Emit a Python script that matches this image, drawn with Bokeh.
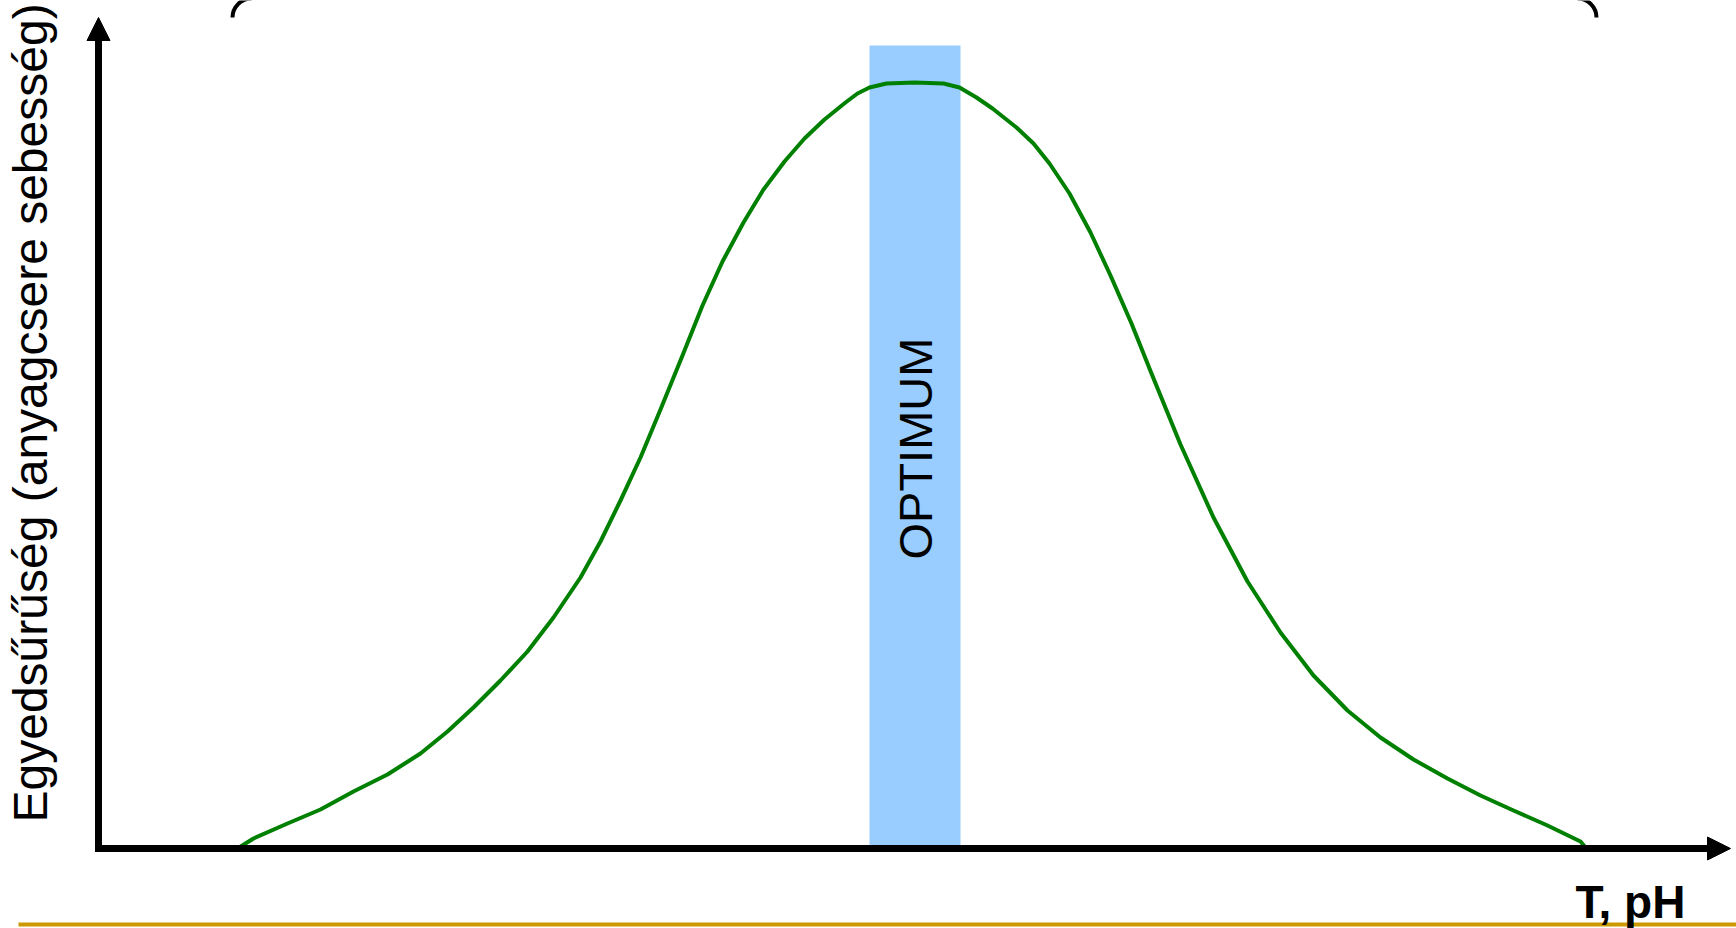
import numpy as np
from bokeh.plotting import figure
from bokeh.models import Range1d, Arrow, NormalHead, Label
from bokeh.embed import file_html
from bokeh.resources import INLINE

# ---- data (abstract units: T/pH along x, rate along y) ----
t_values = [139, 155, 189, 222, 255, 289, 322, 349, 375, 402, 429, 455, 482, 502, 522,
            542, 562, 584, 604, 624, 645, 665, 686, 706, 726, 747, 759, 771, 788, 816,
            845, 861, 878, 894, 918, 935, 951, 971, 992, 1012, 1033, 1053, 1082, 1115,
            1149, 1182, 1215, 1249, 1282, 1315, 1349, 1382, 1415, 1449, 1482, 1488]
rate_values = [0, 10, 25, 39, 57, 74, 95, 117, 141, 168, 197, 231, 271, 307, 348,
               391, 439, 493, 543, 587, 626, 659, 687, 710, 729, 746, 755, 761, 765, 766,
               765, 761, 751, 740, 721, 705, 685, 655, 616, 573, 525, 475, 404, 331,
               267, 216, 173, 138, 111, 89, 70, 53, 38, 23, 7, 0]
optimum_range = [771, 862]
optimum_top = 803

x_label = "T, pH"
y_label = "Egyedsűrűség (anyagcsere sebesség)"
band_label = "OPTIMUM"

W, H = 1736, 928
p = figure(width=W, height=H, output_backend="svg", toolbar_location=None,
           x_range=Range1d(-98, W - 98), y_range=Range1d(848 - H, 848),
           x_axis_type=None, y_axis_type=None, min_border=0,
           outline_line_color=None, background_fill_color="white")
p.grid.visible = False

# optimum band
p.quad(left=[optimum_range[0]], right=[optimum_range[1]], bottom=[0], top=[optimum_top],
       fill_color="#99CCFF", line_color=None)

# curve
p.line(t_values, rate_values, line_color="#008000", line_width=4, line_join="round")

# axes with arrows
p.add_layout(Arrow(end=NormalHead(size=23, fill_color="black", line_color="black", line_width=1),
                   x_start=0, y_start=-3.5, x_end=0, y_end=831,
                   line_color="black", line_width=7))
p.add_layout(Arrow(end=NormalHead(size=23, fill_color="black", line_color="black", line_width=1),
                   x_start=-3.5, y_start=0, x_end=1632, y_end=0,
                   line_color="black", line_width=7))

# top bracket arcs
p.arc(x=[153], y=[831], radius=19, start_angle=np.pi / 2, end_angle=np.pi,
      line_color="black", line_width=4)
p.arc(x=[1479], y=[831], radius=19, start_angle=0, end_angle=np.pi / 2,
      line_color="black", line_width=4)

# gold rule at bottom
p.line([-80, 1638], [-76, -76], line_color="#CC9900", line_width=4)

# texts
p.add_layout(Label(x=817, y=289, text=band_label, angle=np.pi / 2,
                   text_font="Liberation Sans", text_font_size="47px",
                   text_color="black", text_align="left", text_baseline="alphabetic"))
p.add_layout(Label(x=-68, y=26, text=y_label, angle=np.pi / 2,
                   text_font="Liberation Sans", text_font_size="48px",
                   text_color="black", text_align="left", text_baseline="alphabetic"))
p.add_layout(Label(x=1477, y=-53, text=x_label,
                   text_font="Liberation Sans", text_font_size="46px", text_font_style="bold",
                   text_color="black", text_align="left", text_baseline="alphabetic"))

open("out.html", "w").write(file_html(p, INLINE))
